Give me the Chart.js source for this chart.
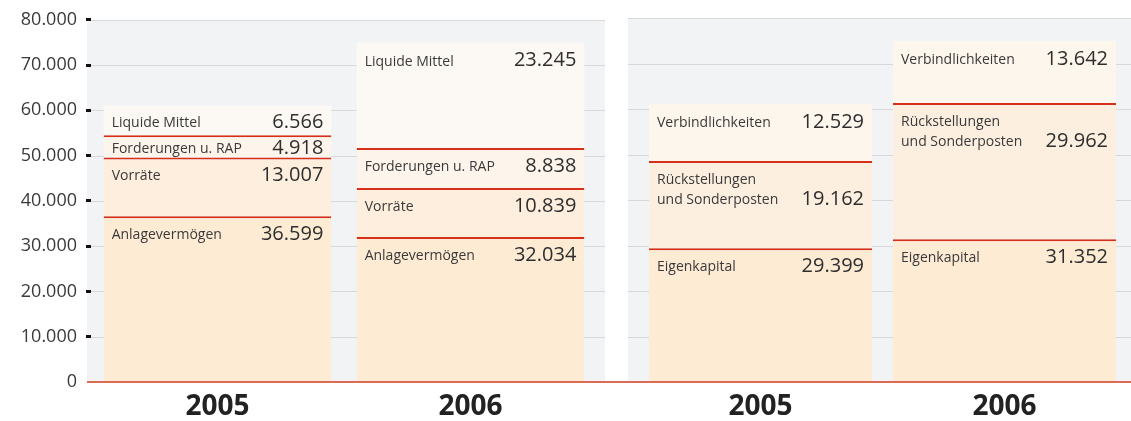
<!DOCTYPE html>
<html>
<head>
<meta charset="utf-8">
<script src="https://cdn.jsdelivr.net/npm/chart.js@4"></script>
<style>
  html, body { margin: 0; padding: 0; background: #ffffff; overflow: hidden; }
  #wrap { position: relative; width: 1131px; height: 421px; overflow: hidden; }
  #leftBox { position: absolute; left: 0; top: 0; width: 616px; height: 432px; }
  #rightBox { position: absolute; left: 616px; top: 0; width: 515px; height: 432px; }
</style>
</head>
<body>
<div id="wrap">
  <div id="leftBox"><canvas id="cLeft"></canvas></div>
  <div id="rightBox"><canvas id="cRight"></canvas></div>
</div>
<script>
// ---- data ----
const years = ['2005', '2006'];
const yTickLabels = ['0', '10.000', '20.000', '30.000', '40.000', '50.000', '60.000', '70.000', '80.000'];

// Aktiva (bottom to top)
const anlagevermoegen = [36599, 32034];
const vorraete = [13007, 10839];
const forderungen = [4918, 8838];
const liquideMittel = [6566, 23245];

// Passiva (bottom to top)
const eigenkapital = [29399, 31352];
const rueckstellungen = [19162, 29962];
const verbindlichkeiten = [12529, 13642];

const aktivaNames = [['Anlagevermögen'], ['Vorräte'], ['Forderungen u. RAP'], ['Liquide Mittel']];
const passivaNames = [['Eigenkapital'], ['Rückstellungen', 'und Sonderposten'], ['Verbindlichkeiten']];

// ---- styling ----
const FONT = "'Open Sans', 'Noto Sans', sans-serif";
const RED = '#d62f1a';
const ZERO_RED = '#dc6a55';
const PANEL = '#f2f3f5';
const GRID = '#d6d8db';

function fmt(v) {
  return String(v).replace(/\B(?=(\d{3})+(?!\d))/g, '.');
}

function ds(label, data, color, isTop) {
  return {
    label: label,
    data: data,
    backgroundColor: color,
    borderColor: RED,
    borderWidth: isTop ? 0 : { top: 2, left: 0, right: 0, bottom: 0 },
    borderSkipped: false,
    categoryPercentage: 1.0,
    barPercentage: 0.9
  };
}

let leftId = -1;

// panel background + grid lines (using the y scale's ticks)
function panelPlugin(panelLeft, panelRight) {
  return {
    id: 'panel',
    beforeDraw(chart) {
      const ctx = chart.ctx;
      const ys = chart.scales.y;
      const top = ys.getPixelForValue(80000);
      const bottom = ys.getPixelForValue(0);
      const pl = panelLeft(chart), pr = panelRight(chart);
      ctx.save();
      ctx.fillStyle = PANEL;
      ctx.fillRect(pl, top, pr - pl, bottom - top);
      ctx.strokeStyle = GRID;
      ctx.lineWidth = 1;
      ys.ticks.forEach(t => {
        if (t.value === 0) return;
        const y = Math.round(ys.getPixelForValue(t.value)) + 0.5;
        ctx.beginPath();
        ctx.moveTo(pl, y);
        ctx.lineTo(pr, y);
        ctx.stroke();
      });
      ctx.restore();
    },
    afterDatasetsDraw(chart) {
      const ctx = chart.ctx;
      const ys = chart.scales.y;
      const y0 = ys.getPixelForValue(0);
      const pl = panelLeft(chart);
      ctx.save();
      ctx.strokeStyle = ZERO_RED;
      ctx.lineWidth = 2;
      ctx.beginPath();
      ctx.moveTo(chart.id === leftId ? pl : 0, y0);
      ctx.lineTo(chart.width, y0);
      ctx.stroke();
      ctx.restore();
    }
  };
}

function segLabelPlugin(names) {
  return {
    id: 'segLabels',
    afterDatasetsDraw(chart) {
      const ctx = chart.ctx;
      ctx.save();
      chart.data.datasets.forEach((d, di) => {
        const meta = chart.getDatasetMeta(di);
        meta.data.forEach((el, i) => {
          const p = el.getProps(['x', 'y', 'base', 'width'], true);
          const top = Math.min(p.y, p.base);
          const h = Math.abs(p.base - p.y);
          const left = p.x - p.width / 2;
          const right = p.x + p.width / 2;
          const cy = top + Math.min(19, h / 2 + 3);
          const lines = names[di];
          ctx.textBaseline = 'middle';
          ctx.fillStyle = '#3a3a3a';
          ctx.font = '14px ' + FONT;
          ctx.textAlign = 'left';
          lines.forEach((ln, k) => ctx.fillText(ln, left + 8, cy + k * 20));
          ctx.fillStyle = '#2e2e2e';
          ctx.font = '20px ' + FONT;
          ctx.textAlign = 'right';
          ctx.fillText(fmt(d.data[i]), right - 8, cy + (lines.length - 1) * 20 - 1);
        });
      });
      ctx.restore();
    }
  };
}

const xAxis = {
  stacked: true,
  grid: { display: false, drawTicks: false },
  border: { display: false },
  ticks: {
    color: '#222222',
    font: { family: FONT, size: 28, weight: 'bold', lineHeight: 1 },
    padding: 11
  }
};

const leftChart = new Chart(document.getElementById('cLeft'), {
  type: 'bar',
  data: {
    labels: years,
    datasets: [
      ds('Anlagevermögen', anlagevermoegen, '#fdebd4', false),
      ds('Vorräte', vorraete, '#fdeedd', false),
      ds('Forderungen u. RAP', forderungen, '#fdf5eb', false),
      ds('Liquide Mittel', liquideMittel, '#fcf9f4', true)
    ]
  },
  options: {
    responsive: true,
    maintainAspectRatio: false,
    animation: false,
    layout: { padding: { top: 18, right: 19, left: 0, bottom: 0 } },
    plugins: { legend: { display: false }, tooltip: { enabled: false } },
    scales: {
      x: xAxis,
      y: {
        stacked: true,
        min: 0,
        max: 80000,
        afterFit(scale) { scale.width = 91; },
        border: { display: false },
        grid: {
          color: 'transparent',
          drawTicks: true,
          tickLength: 5,
          tickWidth: 3,
          tickColor: c => (c.tick && c.tick.value === 0) ? 'transparent' : '#111111'
        },
        ticks: {
          stepSize: 10000,
          padding: 9,
          color: '#3a3a3a',
          font: { family: FONT, size: 18 },
          callback: (v, i) => yTickLabels[i]
        }
      }
    }
  },
  plugins: [
    panelPlugin(c => 87, c => 605),
    segLabelPlugin(aktivaNames)
  ]
});
leftId = leftChart.id;
leftChart.update();

const rightChart = new Chart(document.getElementById('cRight'), {
  type: 'bar',
  data: {
    labels: years,
    datasets: [
      ds('Eigenkapital', eigenkapital, '#fdebd4', false),
      ds('Rückstellungen und Sonderposten', rueckstellungen, '#fdefdf', false),
      ds('Verbindlichkeiten', verbindlichkeiten, '#fdf6ec', true)
    ].map(d => Object.assign(d, { barPercentage: 0.914 }))
  },
  options: {
    responsive: true,
    maintainAspectRatio: false,
    animation: false,
    layout: { padding: { top: 18, right: 4.5, left: 22.5, bottom: 0 } },
    plugins: { legend: { display: false }, tooltip: { enabled: false } },
    scales: {
      x: xAxis,
      y: {
        stacked: true,
        display: false,
        min: 0,
        max: 80000,
        ticks: { stepSize: 10000 }
      }
    }
  },
  plugins: [
    panelPlugin(c => 12, c => c.width),
    segLabelPlugin(passivaNames)
  ]
});
</script>
</body>
</html>
